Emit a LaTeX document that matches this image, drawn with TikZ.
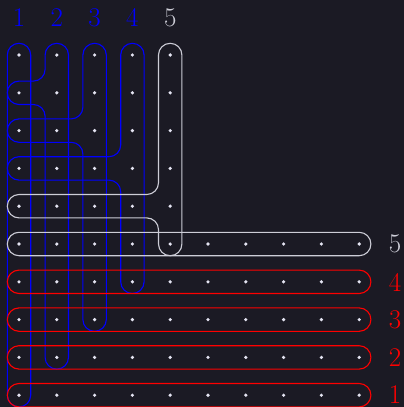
\documentclass[tikz,border=0pt]{standalone}
\begin{document}
\begin{tikzpicture}[x=1pt,y=-1pt]
\definecolor{bg}{RGB}{27,26,36}
\definecolor{dotc}{RGB}{228,228,242}
\definecolor{wline}{RGB}{205,205,215}
\definecolor{bline}{RGB}{0,0,255}
\definecolor{rline}{RGB}{255,0,0}
\tikzset{
  shapeline/.style={line width=1.1pt, rounded corners=11.7pt},
  lbl/.style={inner sep=0pt, font=\fontsize{27}{30}\selectfont},
  dotmark/.style={fill=dotc}
}
\fill[bg] (0,0) rectangle (404,407);
\useasboundingbox (0,0) rectangle (404,407);
\def\r{11.7}
% blue column 1
\draw[shapeline, bline] (19-\r,55-\r) rectangle (19+\r,395.2+\r);
% hook shapes 2..5
\foreach \k/\c in {2/bline,3/bline,4/bline,5/wline} {
  \pgfmathsetmacro\xk{19+37.8*(\k-1)}
  \pgfmathsetmacro\yk{55+37.8*(\k-1)}
  \pgfmathsetmacro\ye{55+37.8*(10-\k)}
  \draw[shapeline, \c] (\xk+\r,100) -- (\xk+\r,\ye+\r)
     -- (\xk-\r,\ye+\r) -- (\xk-\r,\yk+\r) -- (19-\r,\yk+\r)
     -- (19-\r,\yk-\r) -- (\xk-\r,\yk-\r) -- (\xk-\r,55-\r)
     -- (\xk+\r,55-\r) -- cycle;
}
% rows
\foreach \j/\c in {6/wline,7/rline,8/rline,9/rline,10/rline} {
  \pgfmathsetmacro\yj{55+37.8*(\j-1)}
  \draw[shapeline, \c] (19-\r,\yj-\r) rectangle (359.2+\r,\yj+\r);
}
% dots
\foreach \i in {0,...,4} {
  \foreach \j in {0,...,4} {
    \fill[dotmark] (19+37.8*\i,55+37.8*\j) circle (1.8);
  }
}
\foreach \i in {0,...,9} {
  \foreach \j in {5,...,9} {
    \fill[dotmark] (19+37.8*\i,55+37.8*\j) circle (1.8);
  }
}
% labels
\node[lbl, text=bline] (t1) at (19,17.5) {1};
\node[lbl, text=bline] (t2) at (56.8,17.5) {2};
\node[lbl, text=bline] (t3) at (94.6,17.5) {3};
\node[lbl, text=bline] (t4) at (132.4,17.5) {4};
\node[lbl, text=wline] (t5) at (170.2,17.5) {5};
\node[lbl, text=wline] (r5) at (395,244) {5};
\node[lbl, text=rline] (r4) at (395,282) {4};
\node[lbl, text=rline] (r3) at (395,319.8) {3};
\node[lbl, text=rline] (r2) at (395,357.6) {2};
\node[lbl, text=rline] (r1) at (395,395) {1};
\end{tikzpicture}
\end{document}
